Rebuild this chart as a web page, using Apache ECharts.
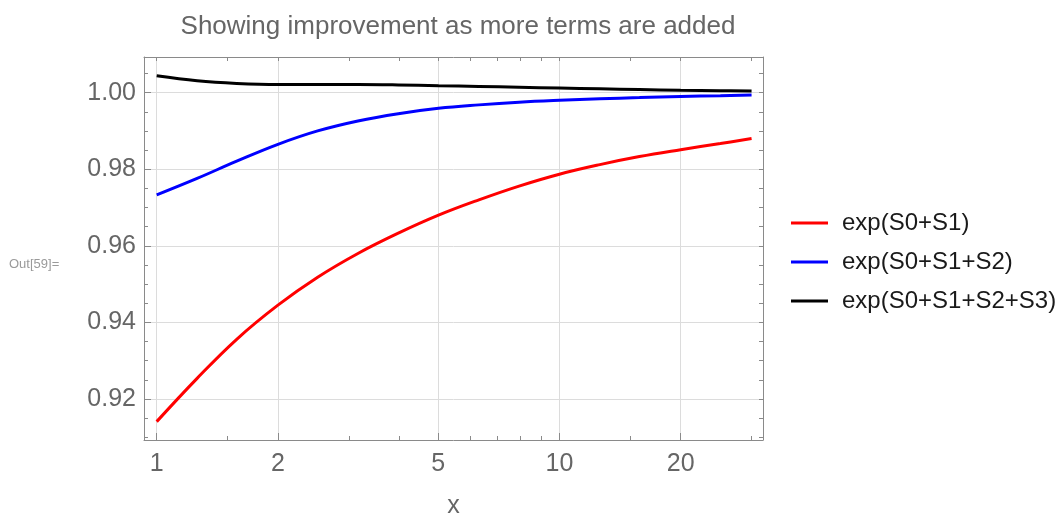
<!DOCTYPE html>
<html>
<head>
<meta charset="utf-8">
<script src="https://cdn.jsdelivr.net/npm/echarts@6/dist/echarts.min.js"></script>
<style>html,body{margin:0;padding:0;background:#fff}#c{width:1060px;height:513px}</style>
</head>
<body>
<div id="c"></div>
<script>
// ---- data ----
const xValues = [1, 1.26, 1.58, 2, 2.51, 3.16, 3.98, 5.01, 6.31, 7.94, 10, 12.6, 15.8, 20, 25.1, 30];
const redValues = [0.9141, 0.9254, 0.9356, 0.9445, 0.9518, 0.9580, 0.9633, 0.9680, 0.9720, 0.9756, 0.9787, 0.9812, 0.9833, 0.9851, 0.9867, 0.9880];
const blueValues = [0.9733, 0.9776, 0.9821, 0.9865, 0.9900, 0.9926, 0.9945, 0.9959, 0.9968, 0.9975, 0.9980, 0.9984, 0.9987, 0.9990, 0.9992, 0.9994];
const blackValues = [1.0044, 1.0031, 1.0024, 1.0021, 1.0021, 1.0021, 1.0020, 1.0018, 1.0016, 1.0014, 1.0012, 1.0010, 1.0008, 1.0006, 1.0005, 1.0004];
const seriesNames = ['exp(S0+S1)', 'exp(S0+S1+S2)', 'exp(S0+S1+S2+S3)'];
const xMajorTicks = [1, 2, 5, 10, 20];
const xMinorTicks = [1.5, 3, 4, 6, 7, 8, 9, 15, 30];
const yMajorTicks = [0.92, 0.94, 0.96, 0.98, 1.00];
const yMinorTicks = [0.91, 0.915, 0.925, 0.93, 0.935, 0.945, 0.95, 0.955, 0.965, 0.97, 0.975, 0.985, 0.99, 0.995, 1.005];
const titleText = 'Showing improvement as more terms are added';
const xName = 'x';

const lx = v => Math.log10(v);
const X_MIN = -0.0315, X_MAX = 1.5055;
const Y_MIN = 0.9093, Y_MAX = 1.0093;
const FONT = '"Liberation Sans", Arial, sans-serif';
const FRAME = '#8a8a8a';
const LABEL = '#666666';

function pts(ys) { return xValues.map((x, i) => [lx(x), ys[i]]); }

const baseX = { type: 'value', min: X_MIN, max: X_MAX, gridIndex: 0 };
const baseY = { type: 'value', min: Y_MIN, max: Y_MAX, gridIndex: 0 };

const chart = echarts.init(document.getElementById('c'), null, { renderer: 'canvas' });
chart.setOption({
  animation: false,
  title: {
    text: titleText, left: 453, top: 9, textAlign: 'center',
    textStyle: { fontFamily: FONT, fontSize: 26, fontWeight: 'normal', color: LABEL }
  },
  graphic: [{
    type: 'text', left: 9, top: 258,
    style: { text: 'Out[59]=', fontFamily: FONT, fontSize: 13, fill: '#9a9a9a' }
  }],
  legend: {
    orient: 'vertical', left: 786, top: 205,
    itemWidth: 37, itemHeight: 3, itemGap: 13, icon: 'rect',
    textStyle: { fontFamily: FONT, fontSize: 24, color: '#1a1a1a', lineHeight: 26, padding: [0, 0, 0, 9] },
    data: seriesNames
  },
  grid: { left: 144, right: 297, top: 57, bottom: 73, containLabel: false, outerBoundsMode: 'none' },
  xAxis: [
    Object.assign({}, baseX, {
      position: 'bottom', name: xName, nameLocation: 'middle', nameGap: 54,
      nameTextStyle: { fontFamily: FONT, fontSize: 25, color: LABEL },
      axisLine: { show: true, onZero: false, lineStyle: { color: FRAME, width: 1 } },
      axisTick: { show: true, inside: true, length: 7, lineStyle: { color: FRAME }, customValues: xMajorTicks.map(lx) },
      axisLabel: { show: true, margin: 12, fontFamily: FONT, fontSize: 25, color: LABEL,
        customValues: xMajorTicks.map(lx), formatter: v => String(Math.round(Math.pow(10, v))) },
      splitLine: { show: true, lineStyle: { color: '#dcdcdc', width: 1 } }
    }),
    Object.assign({}, baseX, {
      position: 'bottom',
      axisLine: { show: false, onZero: false },
      axisTick: { show: true, inside: true, length: 4, lineStyle: { color: FRAME }, customValues: xMinorTicks.map(lx) },
      axisLabel: { show: false }, splitLine: { show: false }
    }),
    Object.assign({}, baseX, {
      position: 'top',
      axisLine: { show: true, onZero: false, lineStyle: { color: FRAME, width: 1 } },
      axisTick: { show: true, inside: true, length: 4, lineStyle: { color: FRAME }, customValues: xMajorTicks.concat(xMinorTicks).map(lx) },
      axisLabel: { show: false }, splitLine: { show: false }
    })
  ],
  yAxis: [
    Object.assign({}, baseY, {
      position: 'left',
      axisLine: { show: true, onZero: false, lineStyle: { color: FRAME, width: 1 } },
      axisTick: { show: true, inside: true, length: 7, lineStyle: { color: FRAME }, customValues: yMajorTicks },
      axisLabel: { show: true, margin: 8, fontFamily: FONT, fontSize: 25, color: LABEL,
        customValues: yMajorTicks, formatter: v => v.toFixed(2) },
      splitLine: { show: true, lineStyle: { color: '#dcdcdc', width: 1 } }
    }),
    Object.assign({}, baseY, {
      position: 'left',
      axisLine: { show: false, onZero: false },
      axisTick: { show: true, inside: true, length: 4, lineStyle: { color: FRAME }, customValues: yMinorTicks },
      axisLabel: { show: false }, splitLine: { show: false }
    }),
    Object.assign({}, baseY, {
      position: 'right',
      axisLine: { show: true, onZero: false, lineStyle: { color: FRAME, width: 1 } },
      axisTick: { show: true, inside: true, length: 4, lineStyle: { color: FRAME }, customValues: yMajorTicks.concat(yMinorTicks) },
      axisLabel: { show: false }, splitLine: { show: false }
    })
  ],
  series: [
    { name: seriesNames[0], type: 'line', data: pts(redValues), smooth: 0.4, showSymbol: false, color: '#ff0000', lineStyle: { width: 3 } },
    { name: seriesNames[1], type: 'line', data: pts(blueValues), smooth: 0.4, showSymbol: false, color: '#0000ff', lineStyle: { width: 3 } },
    { name: seriesNames[2], type: 'line', data: pts(blackValues), smooth: 0.4, showSymbol: false, color: '#000000', lineStyle: { width: 3 } }
  ]
});
</script>
</body>
</html>
